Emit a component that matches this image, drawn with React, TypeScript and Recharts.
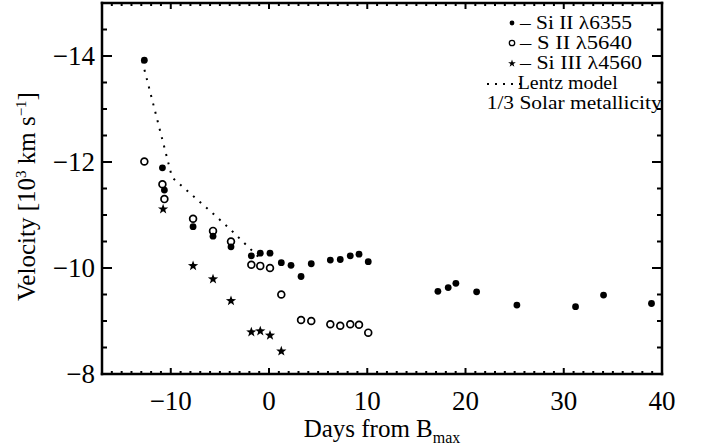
import React from 'react';
import { ComposedChart, Scatter, Line, XAxis, YAxis, Legend } from 'recharts';

// ---- Data (days from B max, velocity in 10^3 km/s) ----
const siIIDays = [-12.69, -10.85, -10.65, -7.73, -5.7, -3.87, -1.8, -0.89, 0.1, 1.25, 2.24, 3.26, 4.3, 6.24, 7.25, 8.27, 9.16, 10.1, 17.19, 18.24, 19.02, 21.13, 25.23, 31.2, 34.05, 38.93];
const siIIVel = [-13.92, -11.89, -11.47, -10.78, -10.6, -10.4, -10.23, -10.28, -10.28, -10.1, -10.05, -9.84, -10.08, -10.15, -10.16, -10.23, -10.26, -10.12, -9.56, -9.63, -9.71, -9.55, -9.3, -9.27, -9.49, -9.33];

const sIIDays = [-12.69, -10.85, -10.65, -7.73, -5.7, -3.87, -1.8, -0.89, 0.1, 1.25, 3.26, 4.3, 6.24, 7.25, 8.27, 9.16, 10.1];
const sIIVel = [-12.01, -11.58, -11.3, -10.93, -10.7, -10.5, -10.06, -10.04, -10.0, -9.5, -9.02, -9.0, -8.94, -8.91, -8.94, -8.93, -8.78];

const siIIIDays = [-10.78, -7.73, -5.7, -3.87, -1.8, -0.89, 0.1, 1.25];
const siIIIVel = [-11.11, -10.04, -9.79, -9.38, -8.79, -8.81, -8.73, -8.43];

const lentzDays = [-12.9, -9.87, -5.9, -3.94, -0.81];
const lentzVel = [-13.9, -11.71, -11.06, -10.73, -10.16];

const xDomain = [-17, 40];
const yDomain = [-15, -8];
const xMajorTicks = [-10, 0, 10, 20, 30, 40];
const yMajorTicks = [-14, -12, -10, -8];

const legendLabels = ['– Si II λ6355', '– S II λ5640', '– Si III λ4560', 'Lentz model', '1/3 Solar metallicity'];

// ---- Derived ----
const zip = (xs: number[], ys: number[]) => xs.map((x, i) => ({ x, y: ys[i] }));
const siIIData = zip(siIIDays, siIIVel);
const sIIData = zip(sIIDays, sIIVel);
const siIIIData = zip(siIIIDays, siIIIVel);
const lentzData = zip(lentzDays, lentzVel);

const xAllTicks: number[] = [];
for (let v = xDomain[0]; v <= xDomain[1]; v += 1) xAllTicks.push(v);
const yAllTicks: number[] = [];
for (let v = yDomain[0]; v <= yDomain[1] + 1e-9; v += 0.5) yAllTicks.push(v);

const FONT = '"Liberation Serif", "Times New Roman", Times, serif';
const TICK_FS = 27;
const TITLE_FS = 25;
const fmt = (v: number) => (v < 0 ? '\u2212' + Math.abs(v) : String(v));
const isMajor = (arr: number[], v: number) => arr.some((a) => Math.abs(a - v) < 1e-6);

const starPath = (cx: number, cy: number, R: number, r: number) => {
  let d = '';
  for (let i = 0; i < 10; i++) {
    const ang = -Math.PI / 2 + (i * Math.PI) / 5;
    const rad = i % 2 === 0 ? R : r;
    d += (i === 0 ? 'M' : 'L') + (cx + rad * Math.cos(ang)).toFixed(2) + ',' + (cy + rad * Math.sin(ang)).toFixed(2);
  }
  return d + 'Z';
};

// ---- Ticks ----
const BottomTick = (props: any) => {
  const { x, y, payload } = props;
  const major = isMajor(xMajorTicks, payload.value);
  return (
    <g>
      <line x1={x} y1={y} x2={x} y2={y - (major ? 6 : 3)} stroke="#000" strokeWidth={2} />
      {major && (
        <text x={x} y={y + 36} textAnchor="middle" fontFamily={FONT} fontSize={TICK_FS} fill="#000">
          {fmt(payload.value)}
        </text>
      )}
    </g>
  );
};

const TopTick = (props: any) => {
  const { x, y, payload } = props;
  const major = isMajor(xMajorTicks, payload.value);
  return <line x1={x} y1={y} x2={x} y2={y + (major ? 6 : 3)} stroke="#000" strokeWidth={2} />;
};

const LeftTick = (props: any) => {
  const { x, y, payload } = props;
  const major = isMajor(yMajorTicks, payload.value);
  return (
    <g>
      <line x1={x} y1={y} x2={x + (major ? 10 : 5)} y2={y} stroke="#000" strokeWidth={2} />
      {major && (
        <text x={x - 7} y={y + 9} textAnchor="end" fontFamily={FONT} fontSize={TICK_FS} fill="#000">
          {fmt(payload.value)}
        </text>
      )}
    </g>
  );
};

const RightTick = (props: any) => {
  const { x, y, payload } = props;
  const major = isMajor(yMajorTicks, payload.value);
  return <line x1={x} y1={y} x2={x - (major ? 10 : 5)} y2={y} stroke="#000" strokeWidth={2} />;
};

// ---- Titles ----
const XTitle = (props: any) => {
  const vb = props.viewBox || { x: 102, y: 374, width: 560, height: 73 };
  const cx = vb.x + vb.width / 2;
  return (
    <text x={cx} y={vb.y + 63} textAnchor="middle" fontFamily={FONT} fontSize={TITLE_FS} fill="#000">
      Days from B
      <tspan fontSize={16} dy={6}>max</tspan>
    </text>
  );
};

const YTitle = (props: any) => {
  const vb = props.viewBox || { x: 0, y: 3, width: 102, height: 371 };
  const cy = vb.y + vb.height / 2 + 8;
  const bx = 35;
  return (
    <text
      x={bx}
      y={cy}
      transform={`rotate(-90, ${bx}, ${cy})`}
      textAnchor="middle"
      fontFamily={FONT}
      fontSize={TITLE_FS}
      fill="#000"
    >
      Velocity [10
      <tspan fontSize={15} dy={-9}>3</tspan>
      <tspan dy={9}> km s</tspan>
      <tspan fontSize={15} dy={-9}>{'\u22121'}</tspan>
      <tspan dy={9}>]</tspan>
    </text>
  );
};

// ---- Shapes ----
const FilledDot = (p: any) => <circle cx={p.cx} cy={p.cy} r={3.4} fill="#000" />;
const OpenDot = (p: any) => <circle cx={p.cx} cy={p.cy} r={3.4} fill="#fff" stroke="#000" strokeWidth={1.7} />;
const StarDot = (p: any) => <path d={starPath(p.cx, p.cy, 5.4, 2.2)} fill="#000" />;

// ---- Legend ----
const legendRows = [
  { x: 520, y: 28.5, w: 112 },
  { x: 520, y: 48.7, w: 112 },
  { x: 520, y: 68.9, w: 122 },
  { x: 517.7, y: 89.1, w: 100 },
  { x: 486.7, y: 109.3, w: 175 },
];

const LegendBox = () => {
  const mx = 512;
  const fs = 18;
  return (
    <svg width={702} height={120} style={{ display: 'block', overflow: 'visible' }}>
      <circle cx={mx} cy={23} r={2.4} fill="#000" />
      <circle cx={mx} cy={43} r={2.7} fill="#fff" stroke="#000" strokeWidth={1.3} />
      <path d={starPath(mx, 63.5, 4, 1.6)} fill="#000" />
      <line x1={487} y1={84} x2={522} y2={84} stroke="#000" strokeWidth={2} strokeDasharray="2 6" />
      {legendRows.map((r, i) => (
        <text
          key={i}
          x={r.x}
          y={r.y}
          fontFamily={FONT}
          fontSize={fs}
          fill="#000"
          textLength={r.w}
          lengthAdjust="spacingAndGlyphs"
        >
          {legendLabels[i]}
        </text>
      ))}
    </svg>
  );
};

const axisLineStyle = { stroke: '#000', strokeWidth: 2.5, strokeLinecap: 'square' as const };

export default function App() {
  return (
    <div style={{ position: 'absolute', left: 0, top: 0, width: 702, height: 447, background: '#fff' }}>
      <ComposedChart width={702} height={447} margin={{ top: 0, right: 0, bottom: 0, left: 0 }}>
        <XAxis
          xAxisId="b"
          type="number"
          dataKey="x"
          orientation="bottom"
          domain={xDomain}
          allowDataOverflow
          ticks={xAllTicks}
          interval={0}
          height={73}
          tickSize={0}
          tickMargin={0}
          tickLine={false}
          tick={<BottomTick />}
          axisLine={axisLineStyle}
          label={<XTitle />}
        />
        <XAxis
          xAxisId="t"
          type="number"
          dataKey="x"
          orientation="top"
          domain={xDomain}
          allowDataOverflow
          ticks={xAllTicks}
          interval={0}
          height={3}
          tickSize={0}
          tickMargin={0}
          tickLine={false}
          tick={<TopTick />}
          axisLine={axisLineStyle}
        />
        <YAxis
          yAxisId="l"
          type="number"
          dataKey="y"
          orientation="left"
          domain={yDomain}
          reversed
          allowDataOverflow
          ticks={yAllTicks}
          interval={0}
          width={102}
          tickSize={0}
          tickMargin={0}
          tickLine={false}
          tick={<LeftTick />}
          axisLine={axisLineStyle}
          label={<YTitle />}
        />
        <YAxis
          yAxisId="r"
          type="number"
          dataKey="y"
          orientation="right"
          domain={yDomain}
          reversed
          allowDataOverflow
          ticks={yAllTicks}
          interval={0}
          width={40}
          tickSize={0}
          tickMargin={0}
          tickLine={false}
          tick={<RightTick />}
          axisLine={axisLineStyle}
        />
        <Line
          xAxisId="t"
          yAxisId="r"
          data={lentzData}
          dataKey="y"
          type="linear"
          stroke="#000"
          strokeWidth={2}
          strokeDasharray="2 6.7"
          dot={false}
          activeDot={false}
          isAnimationActive={false}
        />
        <Scatter xAxisId="b" yAxisId="l" data={sIIData} shape={OpenDot} isAnimationActive={false} />
        <Scatter xAxisId="b" yAxisId="l" data={siIIData} shape={FilledDot} isAnimationActive={false} />
        <Scatter xAxisId="b" yAxisId="l" data={siIIIData} shape={StarDot} isAnimationActive={false} />
        <Legend
          layout="horizontal"
          verticalAlign="middle"
          align="center"
          content={<LegendBox />}
          wrapperStyle={{ left: 0, top: 0, width: 702, height: 120, pointerEvents: 'none' }}
        />
      </ComposedChart>
    </div>
  );
}
